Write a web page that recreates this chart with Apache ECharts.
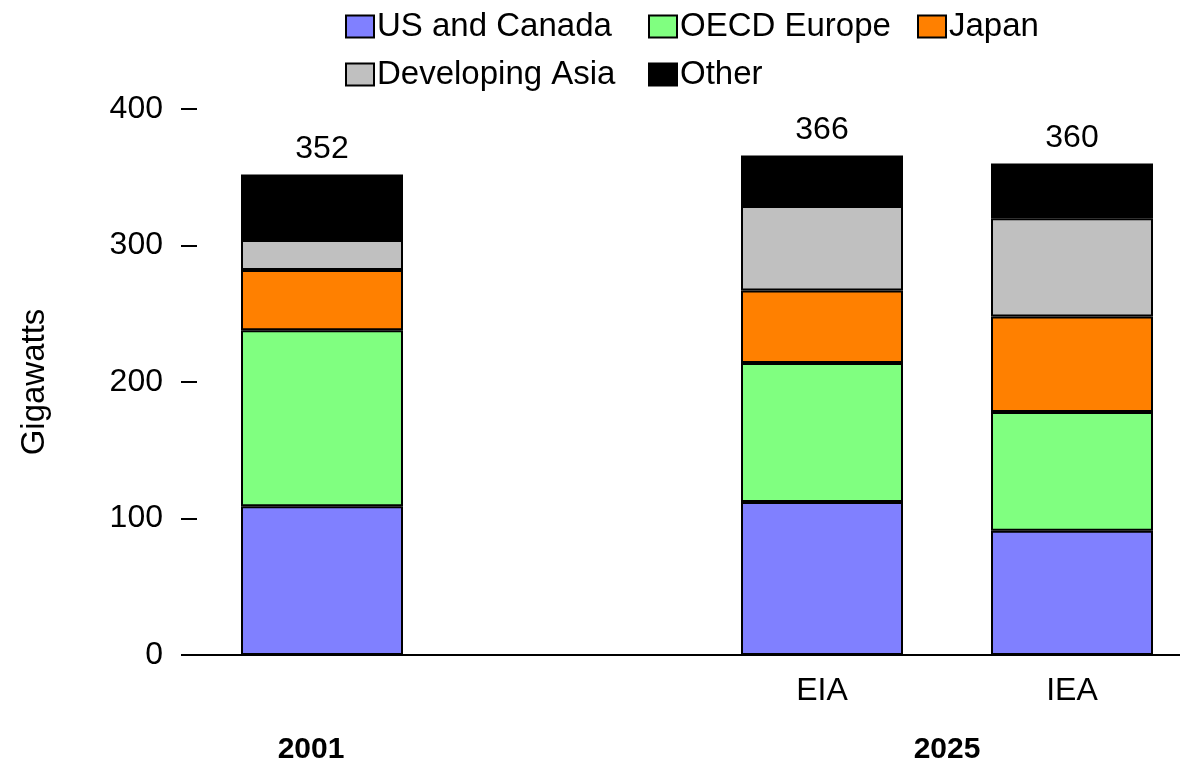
<!DOCTYPE html>
<html>
<head>
<meta charset="utf-8">
<title>Installed capacity by region</title>
<script src="https://cdn.jsdelivr.net/npm/echarts@6/dist/echarts.min.js"></script>
<style>
  html, body { margin: 0; padding: 0; background: #ffffff; }
  #chart { width: 1180px; height: 764px; }
</style>
</head>
<body>
<div id="chart"></div>
<script>
// Scenario columns on the category axis (second column is an empty spacer)
const scenarios = ['', ' ', 'EIA', 'IEA'];
// Year groups shown beneath the scenario labels
const yearGroups = ['2001', '2025'];

// Capacity by region, gigawatts
const usCanada   = [109, null, 112, 91];
const oecdEurope = [129, null, 102, 87];
const japan      = [44,  null, 53,  70];
const devAsia    = [22,  null, 62,  72];
const other      = [48,  null, 37,  40];

const regionNames = ['US and Canada', 'OECD Europe', 'Japan', 'Developing Asia', 'Other'];
const regionValues = [usCanada, oecdEurope, japan, devAsia, other];
const regionColors = ['#8080FF', '#80FF80', '#FF8000', '#C0C0C0', '#000000'];

// Column totals for the labels above each stack
const totals = scenarios.map((_, i) =>
  regionValues.reduce((s, arr) => s + (arr[i] == null ? 0 : arr[i]), 0)
);

const FONT = "'Liberation Sans', Arial, Helvetica, sans-serif";

const series = regionNames.map((name, k) => ({
  name: name,
  type: 'bar',
  stack: 'capacity',
  barWidth: 162,
  data: regionValues[k],
  itemStyle: { color: regionColors[k], borderColor: '#000000', borderWidth: 2 },
  label: k === regionNames.length - 1 ? {
    show: true,
    position: 'top',
    distance: 9,
    color: '#000000',
    fontFamily: FONT,
    fontSize: 32,
    formatter: p => String(totals[p.dataIndex])
  } : { show: false },
  emphasis: { disabled: true }
}));

const legendBase = {
  orient: 'vertical',
  top: 10,
  padding: 0,
  itemGap: 15,
  itemWidth: 28,
  itemHeight: 22,
  icon: 'rect',
  selectedMode: false,
  itemStyle: { borderColor: '#000000', borderWidth: 2 },
  textStyle: { color: '#000000', fontFamily: FONT, fontSize: 33, padding: [0, 0, 0, -2] }
};

const chart = echarts.init(document.getElementById('chart'), null, { renderer: 'canvas' });
chart.setOption({
  animation: false,
  backgroundColor: '#ffffff',
  legend: [
    Object.assign({}, legendBase, { left: 345, data: [regionNames[0], regionNames[3]] }),
    Object.assign({}, legendBase, { left: 648, data: [regionNames[1], regionNames[4]] }),
    Object.assign({}, legendBase, { left: 917, data: [regionNames[2]] })
  ],
  grid: {
    left: 197,
    top: 109,
    bottom: 109,
    right: -17,
    containLabel: false,
    outerBoundsMode: 'none'
  },
  xAxis: [
    {
      type: 'category',
      data: scenarios,
      axisLine: { show: true, lineStyle: { color: '#000000', width: 2 } },
      axisTick: { show: false },
      axisLabel: { color: '#000000', fontFamily: FONT, fontSize: 32, margin: 20, interval: 0 },
      splitLine: { show: false }
    },
    {
      // Year group labels, placed under the centre of each group
      type: 'value',
      position: 'bottom',
      min: 0,
      max: 4,
      interval: 0.5,
      axisLine: { show: false },
      axisTick: { show: false },
      splitLine: { show: false },
      axisLabel: {
        margin: 80,
        showMinLabel: true,
        showMaxLabel: true,
        formatter: v => {
          if (Math.abs(v - 0.5) < 1e-6) return '{y2001|' + yearGroups[0] + '}';
          if (Math.abs(v - 3) < 1e-6) return '{y|' + yearGroups[1] + '}';
          return '';
        },
        rich: {
          y: { color: '#000000', fontFamily: FONT, fontSize: 30, fontWeight: 'bold' },
          y2001: { color: '#000000', fontFamily: FONT, fontSize: 30, fontWeight: 'bold', padding: [0, 22, 0, 0] }
        }
      }
    }
  ],
  yAxis: {
    type: 'value',
    min: 0,
    max: 400,
    interval: 100,
    name: 'Gigawatts',
    nameLocation: 'middle',
    nameGap: 146,
    nameRotate: 90,
    nameTextStyle: { color: '#000000', fontFamily: FONT, fontSize: 33 },
    axisLine: { show: false },
    axisTick: { show: true, length: 16, lineStyle: { color: '#000000', width: 2 } },
    axisLabel: { color: '#000000', fontFamily: FONT, fontSize: 32, margin: 34 },
    splitLine: { show: false }
  },
  series: series
});
</script>
</body>
</html>
